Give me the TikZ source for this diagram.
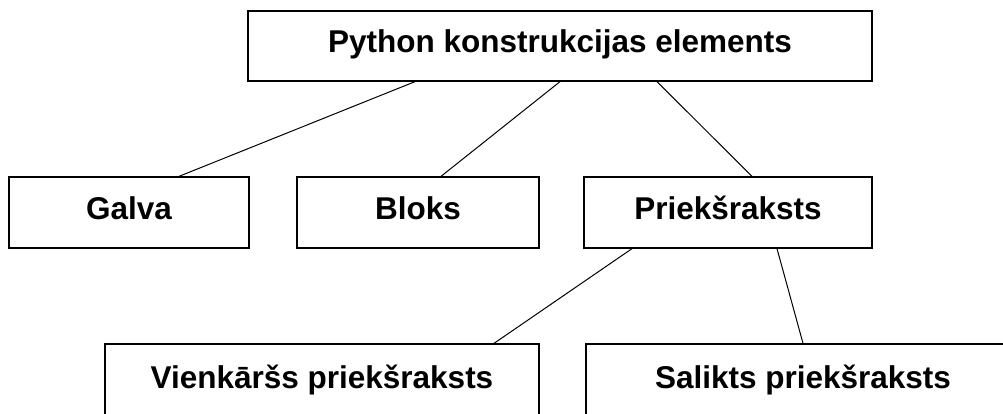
\documentclass[tikz,border=0pt]{standalone}
\usepackage{fontspec}
\setmainfont{Liberation Sans}
\begin{document}
\begin{tikzpicture}[x=1pt, y=1pt, every node/.style={draw, rectangle, line width=1.3pt, inner sep=0pt, font=\fontsize{31.5}{36}\selectfont\bfseries, text height=23pt, text depth=10pt}]

\clip (0,0) rectangle (1003,-414);

% Nodes

\node[minimum width=624pt, minimum height=70pt] (T) at (560,-46) {Python konstrukcijas elements};
\node[minimum width=240pt, minimum height=71pt] (G) at (129,-212.5) {Galva};
\node[minimum width=242pt, minimum height=71pt] (B) at (418,-212.5) {Bloks};
\node[minimum width=288pt, minimum height=71pt] (P) at (728,-212.5) {Priekšraksts};
\node[minimum width=434pt, minimum height=76pt] (V) at (322,-382) {Vienkāršs priekšraksts};
\node[minimum width=434pt, minimum height=76pt] (S) at (803,-382) {Salikts priekšraksts};

% Edges
\draw[line width=1pt] ([xshift=-145pt]T.south) -- ([xshift=50pt]G.north);
\draw[line width=1pt] (T.south) -- ([xshift=23pt]B.north);
\draw[line width=1pt] ([xshift=97pt]T.south) -- ([xshift=24pt]P.north);

\draw[line width=1pt] ([xshift=-96pt]P.south) -- ([xshift=172pt]V.north);
\draw[line width=1pt] ([xshift=49pt]P.south) -- (S.north);

\end{tikzpicture}
\end{document}
